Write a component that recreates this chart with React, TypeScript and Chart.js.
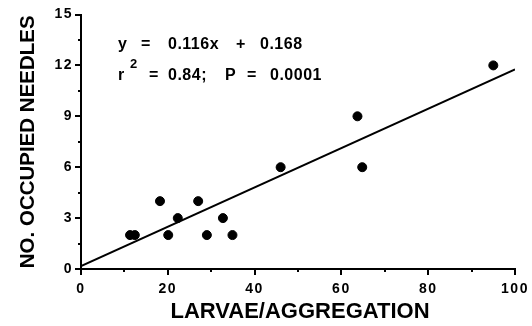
import { useEffect, useRef } from "react";
import { Chart, registerables } from "chart.js";

Chart.register(...registerables);

// Observed aggregations
const larvaePerAggregation = [11.3, 12.4, 18.2, 20.1, 22.3, 27.0, 29.0, 32.7, 34.9, 46.0, 63.7, 64.8, 95.0];
const occupiedNeedles = [2, 2, 4, 2, 3, 4, 2, 3, 2, 6, 9, 6, 12];

// Fitted regression
const slope = 0.116;
const intercept = 0.168;
const rSquared = "0.84";
const pValue = "0.0001";

// Axes
const xRange = [0, 100];
const yRange = [0, 15];
const xStep = 20;
const yStep = 3;
const xTitle = "LARVAE/AGGREGATION";
const yTitle = "NO. OCCUPIED NEEDLES";

const FONT = "'Liberation Sans', Arial, Helvetica, sans-serif";

const fitLine = xRange.map((x) => ({ x, y: slope * x + intercept }));

const decorations = {
  id: "decorations",
  beforeDraw(chart: any) {
    chart.ctx.letterSpacing = "1.5px"; // y tick labels
  },
  afterDatasetsDraw(chart: any) {
    chart.ctx.letterSpacing = "2.5px"; // x tick labels (x scale drawn on top)
  },
  afterDraw(chart: any) {
    const { ctx, chartArea, scales } = chart;
    const xs = scales.x;
    const ys = scales.y;
    ctx.save();
    ctx.strokeStyle = "#000";
    ctx.lineWidth = 2;
    ctx.beginPath();
    // y ticks: major every step, minor halfway
    for (let v = yRange[0]; v <= yRange[1] + 1e-9; v += yStep / 2) {
      const py = Math.round(ys.getPixelForValue(v));
      const major = Math.abs(v / yStep - Math.round(v / yStep)) < 1e-6;
      ctx.moveTo(chartArea.left - (major ? 6 : 3), py);
      ctx.lineTo(chartArea.left, py);
    }
    // x ticks
    for (let v = xRange[0]; v <= xRange[1] + 1e-9; v += xStep / 2) {
      const px = Math.round(xs.getPixelForValue(v));
      const major = Math.abs(v / xStep - Math.round(v / xStep)) < 1e-6;
      ctx.moveTo(px, chartArea.bottom);
      ctx.lineTo(px, chartArea.bottom + (major ? 6 : 3));
    }
    ctx.stroke();

    ctx.fillStyle = "#000";
    // axis titles
    ctx.letterSpacing = "0px";
    ctx.font = `bold 22px ${FONT}`;
    ctx.textAlign = "center";
    ctx.textBaseline = "alphabetic";
    ctx.fillText(xTitle, (chartArea.left + chartArea.right) / 2 + 2, 318);

    ctx.save();
    ctx.font = `bold 20.5px ${FONT}`;
    ctx.translate(34, (chartArea.top + chartArea.bottom) / 2);
    ctx.rotate(-Math.PI / 2);
    ctx.fillText(yTitle, 0, 0);
    ctx.restore();

    // regression annotation
    ctx.textAlign = "left";
    ctx.letterSpacing = "0.5px";
    ctx.font = `bold 16px ${FONT}`;
    const l1 = chartArea.top + 34.5;
    const l2 = chartArea.top + 65.5;
    const x0 = chartArea.left;
    const eqTokens: [string, number][] = [
      ["y", 37],
      ["=", 60],
      [`${slope.toFixed(3)}x`, 87],
      ["+", 155],
      [intercept.toFixed(3), 179],
    ];
    eqTokens.forEach(([t, dx]) => ctx.fillText(t, x0 + dx, l1));
    const statTokens: [string, number][] = [
      ["r", 37],
      ["=", 68],
      [`${rSquared};`, 87],
      ["P", 144],
      ["=", 166],
      [pValue, 189],
    ];
    statTokens.forEach(([t, dx]) => ctx.fillText(t, x0 + dx, l2));
    ctx.font = `bold 13px ${FONT}`;
    ctx.fillText("2", x0 + 49, chartArea.top + 53.5);
    ctx.restore();
    ctx.letterSpacing = "0px";
  },
};

export default function App() {
  const canvasRef = useRef<HTMLCanvasElement | null>(null);

  useEffect(() => {
    const canvas = canvasRef.current;
    if (!canvas) return;
    const chart = new Chart(canvas, {
      type: "scatter",
      data: {
        datasets: [
          {
            type: "line",
            data: fitLine,
            borderColor: "#000",
            borderWidth: 2,
            pointRadius: 0,
            fill: false,
            order: 2,
          },
          {
            type: "scatter",
            data: larvaePerAggregation.map((x, i) => ({ x, y: occupiedNeedles[i] })),
            backgroundColor: "#000",
            borderColor: "#000",
            pointRadius: 4.5,
            pointHoverRadius: 4.5,
            order: 1,
          },
        ],
      },
      options: {
        responsive: false,
        animation: false,
        devicePixelRatio: 1,
        layout: { padding: { left: 0, top: 14.5, right: 17, bottom: 0 } },
        plugins: { legend: { display: false }, tooltip: { enabled: false } },
        events: [],
        scales: {
          x: {
            type: "linear",
            min: xRange[0],
            max: xRange[1],
            z: 1,
            afterFit(scale: any) {
              scale.height = 57;
              scale.paddingLeft = 0;
              scale.paddingRight = 0;
            },
            grid: { display: false, drawTicks: false },
            border: { display: true, color: "#000", width: 2 },
            ticks: {
              stepSize: xStep,
              padding: 12,
              color: "#000",
              font: { family: FONT, size: 14, weight: "bold" },
              maxRotation: 0,
            },
          },
          y: {
            type: "linear",
            min: yRange[0],
            max: yRange[1],
            afterFit(scale: any) {
              scale.width = 81;
              scale.paddingTop = 0;
              scale.paddingBottom = 0;
            },
            grid: { display: false, drawTicks: false },
            border: { display: true, color: "#000", width: 2 },
            ticks: {
              stepSize: yStep,
              padding: 8,
              color: "#000",
              font: { family: FONT, size: 14, weight: "bold" },
            },
          },
        },
      },
      plugins: [decorations],
    });
    return () => chart.destroy();
  }, []);

  return (
    <div style={{ position: "absolute", left: 0, top: 0, width: 532, height: 326, background: "#fff" }}>
      <canvas ref={canvasRef} width={532} height={326} style={{ width: 532, height: 326 }} />
    </div>
  );
}
